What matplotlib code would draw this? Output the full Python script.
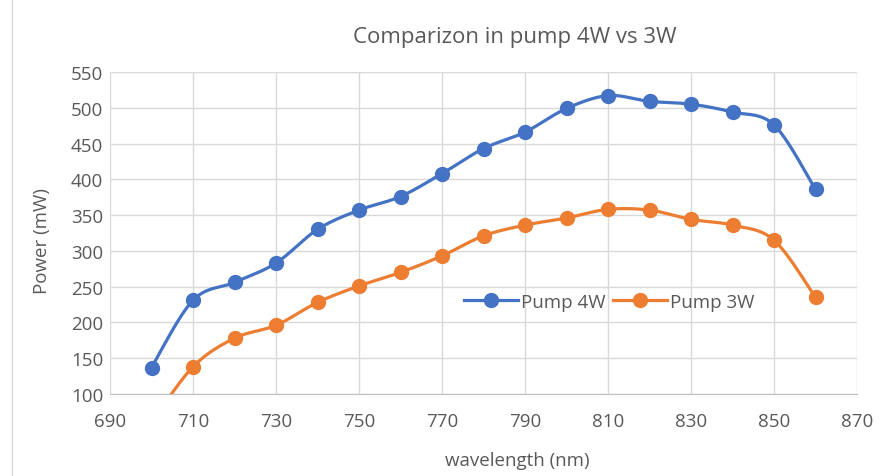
import numpy as np
import matplotlib
matplotlib.use("Agg")
import matplotlib.pyplot as plt
from matplotlib.lines import Line2D

plt.rcParams['font.family'] = ['Open Sans', 'DejaVu Sans']

wavelength = [700, 710, 720, 730, 740, 750, 760, 770, 780, 790,
              800, 810, 820, 830, 840, 850, 860]
pump_4w = [137, 231, 256, 283, 330, 357, 376, 408, 443, 466,
           499, 517, 509, 505, 494, 476, 386]
pump_3w = [60, 138, 178, 196, 228, 251, 270, 293, 321, 336,
           346, 358, 357, 344, 336, 315, 235]
x_ticks = [690, 710, 730, 750, 770, 790, 810, 830, 850, 870]
y_ticks = [100, 150, 200, 250, 300, 350, 400, 450, 500, 550]

BLUE = "#4472C4"
ORANGE = "#ED7D31"
TEXT = "#595959"
GRID = "#D9D9D9"


def smooth(xs, ys, n=30):
    # bezier segments with catmull-rom style control points (spreadsheet "smoothed line")
    p = np.column_stack([xs, ys]).astype(float)
    p_ext = np.vstack([p[0], p, p[-1]])
    t = np.linspace(0, 1, n)[:, None]
    out = []
    for i in range(len(p) - 1):
        p0, p1, p2, p3 = p_ext[i], p_ext[i + 1], p_ext[i + 2], p_ext[i + 3]
        c1 = p1 + (p2 - p0) / 6
        c2 = p2 - (p3 - p1) / 6
        seg = ((1 - t) ** 3) * p1 + 3 * ((1 - t) ** 2) * t * c1 \
            + 3 * (1 - t) * t ** 2 * c2 + t ** 3 * p2
        out.append(seg if i == 0 else seg[1:])
    seg = np.vstack(out)
    return seg[:, 0], seg[:, 1]


fig = plt.figure(figsize=(8.83, 4.77), dpi=100)
ax = fig.add_axes([110 / 883, 1 - 395 / 477, (857 - 110) / 883, (395 - 73) / 477])

for ys, col in [(pump_4w, BLUE), (pump_3w, ORANGE)]:
    sx, sy = smooth(wavelength, ys)
    ax.plot(sx, sy, color=col, lw=2.3, solid_capstyle='round', zorder=3)
    ax.plot(wavelength, ys, 'o', color=col, ms=10, zorder=4)

ax.set_xlim(690, 870)
ax.set_ylim(100, 550)
ax.set_xticks(x_ticks)
ax.set_yticks(y_ticks)
ax.grid(True, color=GRID, lw=1)
ax.set_axisbelow(True)
for s in ['top', 'right', 'left']:
    ax.spines[s].set_visible(False)
ax.spines['bottom'].set_color("#BFBFBF")
ax.tick_params(length=0, labelsize=13.5, labelcolor=TEXT)
ax.tick_params(axis='x', pad=13)
ax.tick_params(axis='y', pad=5)

fig.text(515 / 883, 1 - 38 / 477, "Comparizon in pump 4W vs 3W", ha='center',
         va='center', fontsize=16, color=TEXT)
fig.text(517 / 883, 1 - 461 / 477, "wavelength (nm)", ha='center', va='center',
         fontsize=13.5, color=TEXT)
fig.text(42 / 883, 1 - 241 / 477, "Power (mW)", ha='center', va='center',
         fontsize=13.5, color=TEXT, rotation=90)

handles = [Line2D([], [], color=BLUE, lw=2.3, marker='o', ms=10),
           Line2D([], [], color=ORANGE, lw=2.3, marker='o', ms=10)]
leg = fig.legend(handles, ["Pump 4W", "Pump 3W"], loc='center',
                 bbox_to_anchor=(609 / 883, 1 - 303 / 477), ncol=2, frameon=False,
                 fontsize=13.5, handlelength=2.9, columnspacing=0.4, handletextpad=0.15)
for t in leg.get_texts():
    t.set_color(TEXT)

fig.add_artist(Line2D([12 / 883, 12 / 883], [0, 1], color=GRID, lw=1))

fig.savefig("out.png", dpi=100)
